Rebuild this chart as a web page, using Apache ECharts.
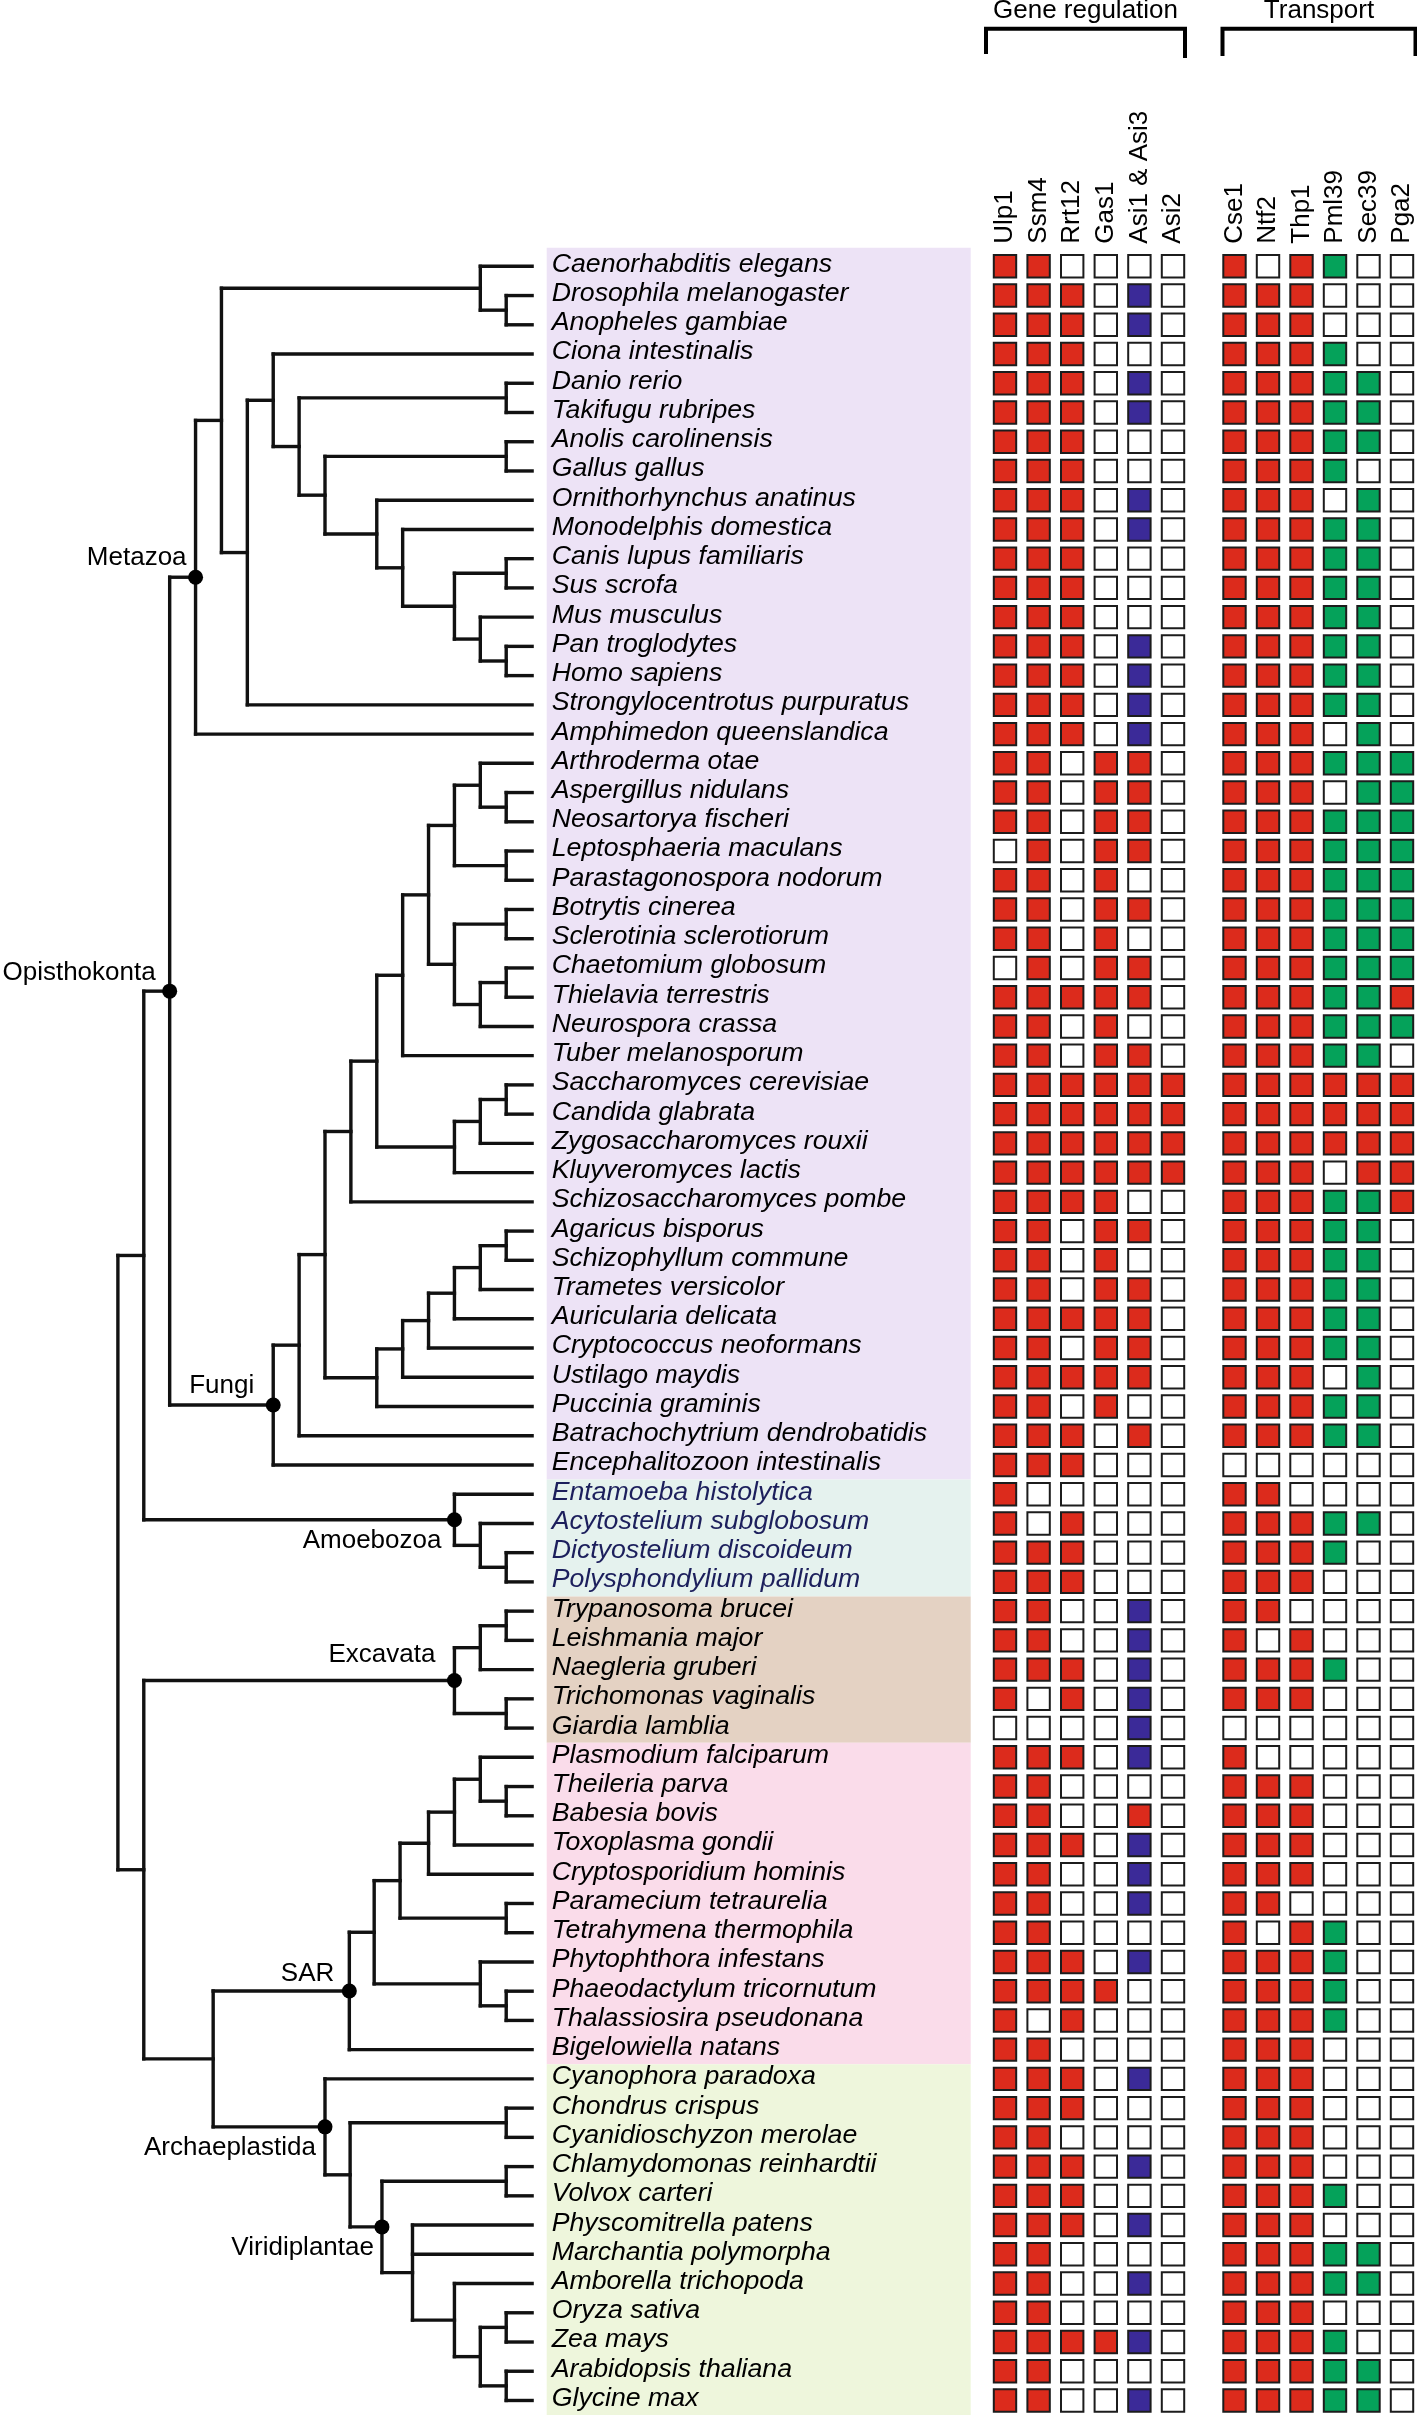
<!DOCTYPE html>
<html>
<head>
<meta charset="utf-8">
<script src="https://cdn.jsdelivr.net/npm/echarts@6/dist/echarts.min.js"></script>
<style>
html,body{margin:0;padding:0;background:#fff;}
#chart{width:1417px;height:2420px;}
</style>
</head>
<body>
<div id="chart"></div>
<script>
// ======================= DATA =======================
const species = [
'Caenorhabditis elegans','Drosophila melanogaster','Anopheles gambiae','Ciona intestinalis',
'Danio rerio','Takifugu rubripes','Anolis carolinensis','Gallus gallus',
'Ornithorhynchus anatinus','Monodelphis domestica','Canis lupus familiaris','Sus scrofa',
'Mus musculus','Pan troglodytes','Homo sapiens','Strongylocentrotus purpuratus',
'Amphimedon queenslandica','Arthroderma otae','Aspergillus nidulans','Neosartorya fischeri',
'Leptosphaeria maculans','Parastagonospora nodorum','Botrytis cinerea','Sclerotinia sclerotiorum',
'Chaetomium globosum','Thielavia terrestris','Neurospora crassa','Tuber melanosporum',
'Saccharomyces cerevisiae','Candida glabrata','Zygosaccharomyces rouxii','Kluyveromyces lactis',
'Schizosaccharomyces pombe','Agaricus bisporus','Schizophyllum commune','Trametes versicolor',
'Auricularia delicata','Cryptococcus neoformans','Ustilago maydis','Puccinia graminis',
'Batrachochytrium dendrobatidis','Encephalitozoon intestinalis','Entamoeba histolytica','Acytostelium subglobosum',
'Dictyostelium discoideum','Polysphondylium pallidum','Trypanosoma brucei','Leishmania major',
'Naegleria gruberi','Trichomonas vaginalis','Giardia lamblia','Plasmodium falciparum',
'Theileria parva','Babesia bovis','Toxoplasma gondii','Cryptosporidium hominis',
'Paramecium tetraurelia','Tetrahymena thermophila','Phytophthora infestans','Phaeodactylum tricornutum',
'Thalassiosira pseudonana','Bigelowiella natans','Cyanophora paradoxa','Chondrus crispus',
'Cyanidioschyzon merolae','Chlamydomonas reinhardtii','Volvox carteri','Physcomitrella patens',
'Marchantia polymorpha','Amborella trichopoda','Oryza sativa','Zea mays',
'Arabidopsis thaliana','Glycine max'
];

// coloured bands behind the species names (number of rows in each)
const bandNames = ['Opisthokonta','Amoebozoa','Excavata','SAR','Archaeplastida'];
const bandSizes = [42, 4, 5, 11, 12];

const geneRegulationCols = ['Ulp1','Ssm4','Rrt12','Gas1','Asi1 & Asi3','Asi2'];
const transportCols = ['Cse1','Ntf2','Thp1','Pml39','Sec39','Pga2'];
const headerTitles = ['Gene regulation','Transport'];

// R = present (red), B = present (blue), G = present (green), W = absent
const geneRegulation = [
'RRWWWW','RRRWBW','RRRWBW','RRRWWW','RRRWBW','RRRWBW','RRRWWW','RRRWWW',
'RRRWBW','RRRWBW','RRRWWW','RRRWWW','RRRWWW','RRRWBW','RRRWBW','RRRWBW',
'RRRWBW','RRWRRW','RRWRRW','RRWRRW','WRWRRW','RRWRWW','RRWRRW','RRWRWW',
'WRWRRW','RRRRRW','RRWRWW','RRWRRW','RRRRRR','RRRRRR','RRRRRR','RRRRRR',
'RRRRWW','RRWRRW','RRWRWW','RRWRRW','RRRRRW','RRWRRW','RRRRRW','RRWRWW',
'RRRWRW','RRRWWW','RWWWWW','RWRWWW','RRRWWW','RRRWWW','RRWWBW','RRWWBW',
'RRRWBW','RWRWBW','WWWWBW','RRRWBW','RRWWWW','RRWWRW','RRRWBW','RRWWBW',
'RRWWBW','RRWWWW','RRRWBW','RRRRWW','RWRWWW','RRWWWW','RRRWBW','RRRWWW',
'RRWWWW','RRRWBW','RRRWWW','RRRWBW','RRWWWW','RRWWBW','RRWWWW','RRRRBW',
'RRWWWW','RRWWBW'
];
const transport = [
'RWRGWW','RRRWWW','RRRWWW','RRRGWW','RRRGGW','RRRGGW','RRRGGW','RRRGWW',
'RRRWGW','RRRGGW','RRRGGW','RRRGGW','RRRGGW','RRRGGW','RRRGGW','RRRGGW',
'RRRWGW','RRRGGG','RRRWGG','RRRGGG','RRRGGG','RRRGGG','RRRGGG','RRRGGG',
'RRRGGG','RRRGGR','RRRGGG','RRRGGW','RRRRRR','RRRRRR','RRRRRR','RRRWRR',
'RRRGGR','RRRGGW','RRRGGW','RRRGGW','RRRGGW','RRRGGW','RRRWGW','RRRGGW',
'RRRGGW','WWWWWW','RRWWWW','RRRGGW','RRRGWW','RRRWWW','RRWWWW','RWRWWW',
'RRRGWW','RRRWWW','WWWWWW','RWWWWW','RRRWWW','RRRWWW','RRRWWW','RRRWWW',
'RRWWWW','RWRGWW','RRRGWW','RRRGWW','RRRGWW','RRRWWW','RRRWWW','RRRWWW',
'RRRWWW','RRRWWW','RRRGWW','RRRWWW','RRRGGW','RRRGGW','RRRWWW','RRRGWW',
'RRRGGW','RRRGGW'
];

// cladogram: N(depth level, children, clade name); leaves are species row indices
function N(d, kids, label) { return { d: d, kids: kids, label: label }; }
const tipLevel = 16;
const tree = N(0, [
  N(1, [
    N(2, [
      N(3, [
        N(4, [
          N(14, [0, N(15, [1, 2])]),
          N(5, [
            N(6, [3,
              N(7, [N(15, [4, 5]),
                N(8, [N(15, [6, 7]),
                  N(10, [8,
                    N(11, [9,
                      N(13, [N(15, [10, 11]), N(14, [12, N(15, [13, 14])])])
                    ])
                  ])
                ])
              ])
            ]),
            15
          ])
        ]),
        16
      ], 'Metazoa'),
      N(6, [
        N(7, [
          N(8, [
            N(9, [
              N(10, [
                N(11, [
                  N(12, [
                    N(13, [N(14, [17, N(15, [18, 19])]), N(15, [20, 21])]),
                    N(13, [N(15, [22, 23]), N(14, [N(15, [24, 25]), 26])])
                  ]),
                  27
                ]),
                N(13, [N(14, [N(15, [28, 29]), 30]), 31])
              ]),
              32
            ]),
            N(10, [N(11, [N(12, [N(13, [N(14, [N(15, [33, 34]), 35]), 36]), 37]), 38]), 39])
          ]),
          40
        ]),
        41
      ], 'Fungi')
    ], 'Opisthokonta'),
    N(13, [42, N(14, [43, N(15, [44, 45])])], 'Amoebozoa')
  ]),
  N(1, [
    N(13, [N(14, [N(15, [46, 47]), 48]), N(15, [49, 50])], 'Excavata'),
    N(3.68, [
      N(8.94, [
        N(9.9, [
          N(10.9, [
            N(12, [N(13, [N(14, [51, N(15, [52, 53])]), 54]), 55]),
            N(15, [56, 57])
          ]),
          N(14, [58, N(15, [59, 60])])
        ]),
        61
      ], 'SAR'),
      N(8, [62,
        N(8.97, [N(15, [63, 64]),
          N(10.2, [N(15, [65, 66]),
            N(11.38, [67, 68, N(13, [69, N(14, [N(15, [70, 71]), N(15, [72, 73])])])])
          ], 'Viridiplantae')
        ])
      ], 'Archaeplastida')
    ])
  ])
]);

// ======================= STYLE / LAYOUT =======================
const FONT = '"Liberation Sans", Helvetica, Arial, sans-serif';
const ROW_TOP = 251.7, ROW_H = 2163.4;
const BAND_COLORS = ['#ede3f6', '#e5f2ee', '#e4d2c3', '#fadcea', '#eef6dc'];
const BAND_TEXT = ['#000', '#1c1f5c', '#000', '#000', '#000'];
const CELL_COLORS = { W: '#ffffff', R: '#dc2b1c', B: '#3b2a98', G: '#05a25a' };
const cladeLabelStyle = {
  Metazoa:       { dx: 9,  base: -10 },
  Opisthokonta:  { dx: 14, base: -9 },
  Fungi:         { dx: 19, base: -10 },
  Amoebozoa:     { dx: 13, base: 30 },
  Excavata:      { dx: 19, base: -17 },
  SAR:           { dx: 15, base: -8 },
  Archaeplastida:{ dx: 9,  base: 30 },
  Viridiplantae: { dx: 8,  base: 30 }
};
const bracketStyle = [
  { padL: 19, padR: 12, legL: 54, legR: 58 },
  { padL: 12, padR: 13.5, legL: 56, legR: 56 }
];

// ======================= BUILD =======================
const treeSegments = [];
const cladeMarks = [];
const cladeMarkNames = [];
(function layout() {
  function walk(node) {
    if (typeof node === 'number') return { x: tipLevel, y: node };
    const ch = node.kids.map(walk);
    const y0 = ch[0].y, y1 = ch[ch.length - 1].y;
    const y = (y0 + y1) / 2;
    treeSegments.push([node.d, y0, node.d, y1]);
    ch.forEach(c => treeSegments.push([node.d, c.y, c.x, c.y]));
    if (node.label) { cladeMarks.push([node.d, y]); cladeMarkNames.push(node.label); }
    return { x: node.d, y: y };
  }
  walk(tree);
})();

const bandRanges = [];
(function () {
  let s = 0;
  bandSizes.forEach((n, g) => { bandRanges.push([0, s, s + n - 1, g]); s += n; });
})();
const rowBand = [];
bandRanges.forEach(b => { for (let i = b[1]; i <= b[2]; i++) rowBand.push(b[3]); });

function cellData(codes) {
  const out = [];
  codes.forEach((row, r) => { for (let c = 0; c < row.length; c++) out.push([c, r, row[c]]); });
  return out;
}
const geneCells = cellData(geneRegulation);
const transportCells = cellData(transport);

function cellRender(cells) {
  return function (params, api) {
    const p = api.coord([api.value(0), api.value(1)]);
    const s = 22.4;
    return {
      type: 'rect',
      shape: { x: p[0] - s / 2, y: p[1] - s / 2, width: s, height: s },
      style: { fill: CELL_COLORS[cells[params.dataIndex][2]], stroke: '#1c1c1c', lineWidth: 2 }
    };
  };
}

function bracketRender(k, nCols) {
  return function (params, api) {
    const st = bracketStyle[k];
    const a = api.coord([0, 0])[0], b = api.coord([nCols - 1, 0])[0];
    const x1 = a - st.padL, x2 = b + st.padR, yH = 28.7;
    return {
      type: 'group',
      children: [
        { type: 'polyline', shape: { points: [[x1, st.legL], [x1, yH], [x2, yH], [x2, st.legR]] },
          style: { stroke: '#000', lineWidth: 4, fill: 'none', lineJoin: 'miter' } },
        { type: 'text', x: (x1 + x2) / 2, y: 10.5,
          style: { text: headerTitles[k], fill: '#000', fontSize: 26, fontFamily: FONT, align: 'center', verticalAlign: 'middle' } }
      ]
    };
  };
}

const hiddenY = i => ({ type: 'value', gridIndex: i, min: -0.5, max: 73.5, inverse: true, show: false });
const colAxis = (i, cols) => ({
  type: 'category', gridIndex: i, data: cols, position: 'top',
  axisLine: { show: false }, axisTick: { show: false }, splitLine: { show: false },
  axisLabel: { rotate: 90, margin: 8, interval: 0, fontSize: 26, color: '#000', fontFamily: FONT }
});
const gridBase = { containLabel: false, outerBoundsMode: 'none', show: false };

const option = {
  animation: false,
  backgroundColor: '#fff',
  grid: [
    Object.assign({ left: 117.9, top: ROW_TOP, width: 414.2, height: ROW_H }, gridBase),
    Object.assign({ left: 546.7, top: ROW_TOP, width: 424, height: ROW_H }, gridBase),
    Object.assign({ left: 988.2, top: ROW_TOP, width: 201.6, height: ROW_H }, gridBase),
    Object.assign({ left: 1217.75, top: ROW_TOP, width: 201, height: ROW_H }, gridBase)
  ],
  xAxis: [
    { type: 'value', gridIndex: 0, min: 0, max: tipLevel, show: false },
    { type: 'value', gridIndex: 1, min: 0, max: 1, show: false },
    colAxis(2, geneRegulationCols),
    colAxis(3, transportCols)
  ],
  yAxis: [hiddenY(0), hiddenY(1), hiddenY(2), hiddenY(3)],
  series: [
    { // tree branches
      type: 'custom', xAxisIndex: 0, yAxisIndex: 0, data: treeSegments, silent: true,
      renderItem: function (params, api) {
        const a = api.coord([api.value(0), api.value(1)]);
        const b = api.coord([api.value(2), api.value(3)]);
        return { type: 'line', shape: { x1: a[0], y1: a[1], x2: b[0], y2: b[1] },
          style: { stroke: '#111', lineWidth: 3.4, lineCap: 'square' } };
      }
    },
    { // clade nodes + names
      type: 'custom', xAxisIndex: 0, yAxisIndex: 0, data: cladeMarks, silent: true,
      renderItem: function (params, api) {
        const p = api.coord([api.value(0), api.value(1)]);
        const name = cladeMarkNames[params.dataIndex];
        const st = cladeLabelStyle[name];
        return { type: 'group', children: [
          { type: 'circle', shape: { cx: p[0], cy: p[1], r: 7.5 }, style: { fill: '#000' } },
          { type: 'text', x: p[0] - st.dx, y: p[1] + st.base - 9,
            style: { text: name, fill: '#000', fontSize: 26, fontFamily: FONT, align: 'right', verticalAlign: 'middle' } }
        ] };
      }
    },
    { // coloured bands
      type: 'custom', xAxisIndex: 1, yAxisIndex: 1, data: bandRanges, silent: true,
      renderItem: function (params, api) {
        const a = api.coord([0, api.value(1) - 0.5]);
        const b = api.coord([1, api.value(2) + 0.5]);
        const ext = params.dataIndex === 0 ? 4 : 0;
        return { type: 'rect', shape: { x: a[0], y: a[1] - ext, width: b[0] - a[0], height: b[1] - a[1] + ext },
          style: { fill: BAND_COLORS[api.value(3)] } };
      }
    },
    { // species names
      type: 'custom', xAxisIndex: 1, yAxisIndex: 1, silent: true,
      data: species.map((s, i) => [0, i]),
      renderItem: function (params, api) {
        const i = api.value(1);
        const p = api.coord([0, i]);
        return { type: 'text', x: p[0] + 5, y: p[1] - 2,
          style: { text: species[params.dataIndex], fill: BAND_TEXT[rowBand[params.dataIndex]],
            fontSize: 26.7, fontStyle: 'italic', fontFamily: FONT, align: 'left', verticalAlign: 'middle' } };
      }
    },
    { type: 'custom', xAxisIndex: 2, yAxisIndex: 2, data: geneCells, silent: true, renderItem: cellRender(geneCells) },
    { type: 'custom', xAxisIndex: 3, yAxisIndex: 3, data: transportCells, silent: true, renderItem: cellRender(transportCells) },
    { type: 'custom', xAxisIndex: 2, yAxisIndex: 2, data: [[0, 0]], silent: true, renderItem: bracketRender(0, geneRegulationCols.length) },
    { type: 'custom', xAxisIndex: 3, yAxisIndex: 3, data: [[0, 0]], silent: true, renderItem: bracketRender(1, transportCols.length) }
  ]
};

const chart = echarts.init(document.getElementById('chart'), null, { renderer: 'canvas', width: 1417, height: 2420 });
chart.setOption(option);
</script>
</body>
</html>
